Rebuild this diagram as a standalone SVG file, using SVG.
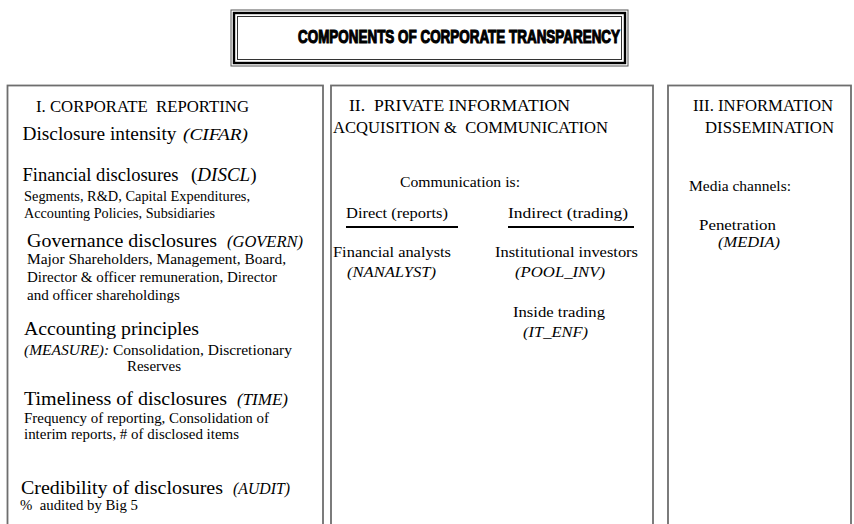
<svg xmlns="http://www.w3.org/2000/svg" width="854" height="524" viewBox="0 0 854 524">
<style>
text{font-family:"Liberation Serif","Times New Roman",serif;fill:#000}
.hd{font-size:16.5px}
.big{font-size:19px}
.sm{font-size:14.5px}
.md{font-size:15.5px}
.it{font-style:italic}
.lab{font-size:16.5px;font-style:italic}
.box{fill:none;stroke:#6e6e6e;stroke-width:1.8}
.ul{stroke:#000;stroke-width:2.2}
</style>
<rect width="854" height="524" fill="#fff"/>
<g id="title">
<rect x="231" y="10" width="397" height="56" fill="none" stroke="#555" stroke-width="1"/>
<rect x="234" y="13" width="391" height="50" fill="none" stroke="#000" stroke-width="2.4"/>
<rect x="237.5" y="16.5" width="384" height="43" fill="none" stroke="#333" stroke-width="1"/>
<text x="298" y="42.5" textLength="322" lengthAdjust="spacingAndGlyphs" style="font-family:'Liberation Sans Narrow','Liberation Sans',Arial,sans-serif;font-weight:bold;font-size:17.5px;stroke:#000;stroke-width:1.1">COMPONENTS OF CORPORATE TRANSPARENCY</text>
</g>
<g id="corporate-reporting">
<rect class="box" x="7.5" y="85.5" width="315.5" height="460"/>
<text class="hd" x="36" y="112" xml:space="preserve" textLength="213" lengthAdjust="spacingAndGlyphs">I. CORPORATE  REPORTING</text>
<text class="big" x="22.5" y="140" textLength="154" lengthAdjust="spacingAndGlyphs">Disclosure intensity</text>
<text class="lab" x="183" y="140" textLength="65" lengthAdjust="spacingAndGlyphs">(CIFAR)</text>
<text class="big" x="22.5" y="181" textLength="156" lengthAdjust="spacingAndGlyphs">Financial disclosures</text>
<text class="big" x="191" y="181">(<tspan class="it">DISCL</tspan>)</text>
<text class="sm" x="24" y="201" textLength="226" lengthAdjust="spacingAndGlyphs">Segments, R&amp;D, Capital Expenditures,</text>
<text class="sm" x="24" y="218" textLength="191" lengthAdjust="spacingAndGlyphs">Accounting Policies, Subsidiaries</text>
<text class="big" x="27" y="247" textLength="190" lengthAdjust="spacingAndGlyphs">Governance disclosures</text>
<text class="lab" x="227" y="247" textLength="76" lengthAdjust="spacingAndGlyphs">(GOVERN)</text>
<text class="sm" x="27" y="264" textLength="259" lengthAdjust="spacingAndGlyphs">Major Shareholders, Management, Board,</text>
<text class="sm" x="27" y="282" textLength="250" lengthAdjust="spacingAndGlyphs">Director &amp; officer remuneration, Director</text>
<text class="sm" x="27" y="300" textLength="153" lengthAdjust="spacingAndGlyphs">and officer shareholdings</text>
<text class="big" x="24" y="335" textLength="175" lengthAdjust="spacingAndGlyphs">Accounting principles</text>
<text class="sm" x="24" y="355" textLength="268" lengthAdjust="spacingAndGlyphs"><tspan class="it">(MEASURE):</tspan> Consolidation, Discretionary</text>
<text class="sm" x="127" y="371" textLength="54" lengthAdjust="spacingAndGlyphs">Reserves</text>
<text class="big" x="24" y="405" textLength="203" lengthAdjust="spacingAndGlyphs">Timeliness of disclosures</text>
<text class="lab" x="237" y="405" textLength="51" lengthAdjust="spacingAndGlyphs">(TIME)</text>
<text class="sm" x="24" y="423" textLength="245" lengthAdjust="spacingAndGlyphs">Frequency of reporting, Consolidation of</text>
<text class="sm" x="24" y="439" textLength="215" lengthAdjust="spacingAndGlyphs">interim reports, # of disclosed items</text>
<text class="big" x="21" y="494" textLength="202" lengthAdjust="spacingAndGlyphs">Credibility of disclosures</text>
<text class="lab" x="233" y="494" textLength="57" lengthAdjust="spacingAndGlyphs">(AUDIT)</text>
<text class="sm" x="20" y="510" xml:space="preserve" textLength="118" lengthAdjust="spacingAndGlyphs">%  audited by Big 5</text>
</g>
<g id="private-information">
<rect class="box" x="331" y="85.5" width="322" height="460"/>
<text class="hd" x="349" y="111" xml:space="preserve" textLength="221" lengthAdjust="spacingAndGlyphs">II.  PRIVATE INFORMATION</text>
<text class="hd" x="333" y="133" xml:space="preserve" textLength="275" lengthAdjust="spacingAndGlyphs">ACQUISITION &amp;  COMMUNICATION</text>
<text class="md" x="400" y="187" textLength="120" lengthAdjust="spacingAndGlyphs">Communication is:</text>
<text class="md" x="346" y="218" textLength="102" lengthAdjust="spacingAndGlyphs">Direct (reports)</text>
<text class="md" x="508" y="218" textLength="120" lengthAdjust="spacingAndGlyphs">Indirect (trading)</text>
<text class="md" x="333" y="257" textLength="118" lengthAdjust="spacingAndGlyphs">Financial analysts</text>
<text class="md it" x="347" y="277" textLength="89" lengthAdjust="spacingAndGlyphs">(NANALYST)</text>
<text class="md" x="495" y="257" textLength="143" lengthAdjust="spacingAndGlyphs">Institutional investors</text>
<text class="md it" x="515" y="277" textLength="90" lengthAdjust="spacingAndGlyphs">(POOL_INV)</text>
<text class="md" x="513" y="317" textLength="92" lengthAdjust="spacingAndGlyphs">Inside trading</text>
<text class="md it" x="523" y="337" textLength="65" lengthAdjust="spacingAndGlyphs">(IT_ENF)</text>
</g>
<g id="information-dissemination">
<rect class="box" x="668" y="85.5" width="183" height="460"/>
<text class="hd" x="693" y="111" textLength="140" lengthAdjust="spacingAndGlyphs">III. INFORMATION</text>
<text class="hd" x="705" y="133" textLength="129" lengthAdjust="spacingAndGlyphs">DISSEMINATION</text>
<text class="md" x="689" y="191">Media channels:</text>
<text class="md" x="699" y="230" textLength="77" lengthAdjust="spacingAndGlyphs">Penetration</text>
<text class="md it" x="718" y="247" textLength="62" lengthAdjust="spacingAndGlyphs">(MEDIA)</text>
</g>
<g id="connectors">
<line class="ul" x1="346" y1="227" x2="458" y2="227"/>
<line class="ul" x1="508" y1="227" x2="634" y2="227"/>
</g>
</svg>
